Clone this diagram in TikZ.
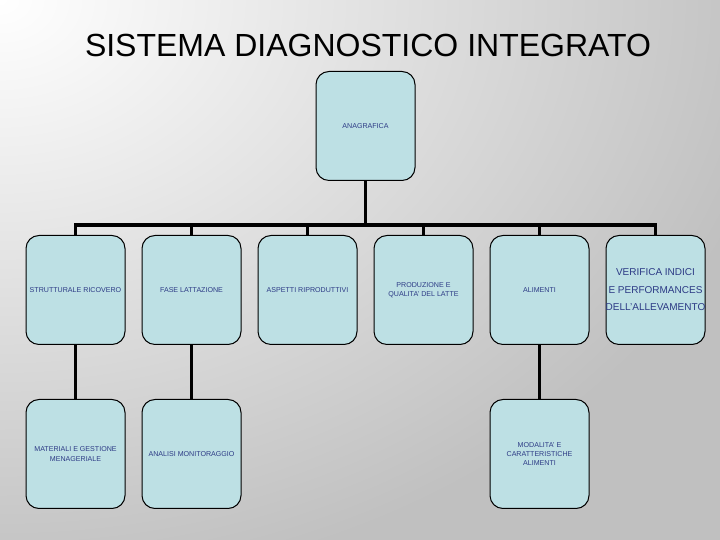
\documentclass[tikz,border=0pt]{standalone}
\usepackage{fontspec}
\setmainfont{Liberation Sans}
\definecolor{boxfill}{HTML}{BDE0E4}
\definecolor{boxtext}{HTML}{2C3A85}
\definecolor{bggray}{HTML}{C0C0C0}
\pgfdeclareradialshading{bgfade}{\pgfpoint{0bp}{0bp}}{color(0bp)=(white); color(25bp)=(bggray); color(50bp)=(bggray)}
\tikzset{
  diagbox/.style={draw=black,line width=1pt,fill=boxfill,rounded corners=13pt,
    minimum width=99pt,minimum height=109pt,inner sep=2pt,align=center,
    text=boxtext,font=\fontsize{7.1}{9.3}\selectfont},
}

\begin{document}
\begin{tikzpicture}[x=1pt,y=1pt,
    level distance=164pt,
    level 1/.style={sibling distance=116pt,
      edge from parent path={(\tikzparentnode.south) -- +(0,-44) -| (\tikzchildnode.north)}},
    level 2/.style={edge from parent path={(\tikzparentnode.south) -- (\tikzchildnode.north)}},
    edge from parent/.style={draw,line width=3.5pt}]
  \useasboundingbox (0,0) rectangle (720,540);
  \begin{scope}
    \clip (0,0) rectangle (720,540);
    \fill[bggray] (0,0) rectangle (720,540);
    \shade[shading=bgfade] (0,540) ellipse (792 and 594);
  \end{scope}
  \node[font=\fontsize{32}{38}\selectfont] (title) at (368,495) {SISTEMA DIAGNOSTICO INTEGRATO};
  \node[diagbox] (anagrafica) at (365.5,414) {ANAGRAFICA}
    child {node[diagbox] (strutturale) {STRUTTURALE RICOVERO}
      child {node[diagbox] (materiali) {MATERIALI E GESTIONE\\MENAGERIALE}}
    }
    child {node[diagbox] (lattazione) {FASE LATTAZIONE}
      child {node[diagbox] (analisi) {ANALISI MONITORAGGIO}}
    }
    child {node[diagbox] (riproduttivi) {ASPETTI RIPRODUTTIVI}}
    child {node[diagbox] (produzione) {PRODUZIONE E\\QUALITA' DEL LATTE}}
    child {node[diagbox] (alimenti) {ALIMENTI}
      child {node[diagbox] (modalita) {MODALITA' E\\CARATTERISTICHE\\ALIMENTI}}
    }
    child {node[diagbox,font=\fontsize{10}{17.5}\selectfont] (verifica)
      {\makebox[60pt]{VERIFICA INDICI}\\\makebox[60pt]{E PERFORMANCES}\\\makebox[60pt]{DELL'ALLEVAMENTO}}};
\end{tikzpicture}
\end{document}
